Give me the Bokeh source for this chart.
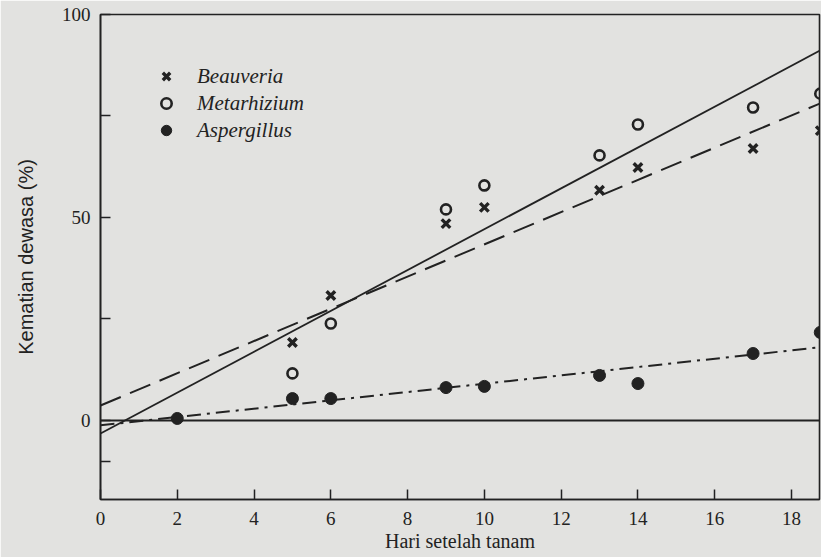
from bokeh.plotting import figure
from bokeh.models import Range1d, FixedTicker, Legend, LegendItem
from bokeh.embed import file_html
from bokeh.resources import INLINE

# ---- data ----
days_beauveria = [5, 6, 9, 10, 13, 14, 17, 18.75]
beauveria = [19.2, 30.8, 48.5, 52.5, 56.7, 62.3, 67.0, 71.4]

days_metarhizium = [5, 6, 9, 10, 13, 14, 17, 18.75]
metarhizium = [11.6, 23.9, 52.0, 57.9, 65.3, 72.9, 77.1, 80.5]

days_aspergillus = [2, 5, 6, 9, 10, 13, 14, 17, 18.75]
aspergillus = [0.5, 5.4, 5.4, 8.1, 8.4, 11.1, 9.1, 16.5, 21.7]

# regression lines (end points)
fit_days = [0, 19]
fit_metarhizium = [-3.2, 92.4]    # solid
fit_beauveria = [3.7, 79.1]       # long dash
fit_aspergillus = [-1.2, 18.3]    # dash-dot
baseline_days = [0, 19]
baseline = [0, 0]

x_ticks = [0, 2, 4, 6, 8, 10, 12, 14, 16, 18]
y_ticks = [-10, 0, 25, 50, 75, 100]
y_tick_labels = {-10: "", 0: "0", 25: "", 50: "50", 75: "", 100: "100"}

legend_names = ["Beauveria", "Metarhizium", "Aspergillus"]

INK = "#222222"
PAPER = "#e2e2e0"
SERIF = "Liberation Serif"
SANS = "Liberation Sans"

p = figure(width=821, height=557, output_backend="svg", toolbar_location=None,
           x_range=Range1d(0, 18.73), y_range=Range1d(-19.46, 100),
           min_border_left=100, min_border_right=2, min_border_top=14, min_border_bottom=58)

p.background_fill_color = PAPER
p.border_fill_color = PAPER
p.outline_line_color = INK
p.outline_line_width = 1.6
p.grid.visible = False

# axes
p.xaxis.ticker = FixedTicker(ticks=x_ticks)
p.yaxis.ticker = FixedTicker(ticks=y_ticks)
p.yaxis.major_label_overrides = y_tick_labels
for ax in (p.xaxis, p.yaxis):
    ax.axis_line_color = INK
    ax.axis_line_width = 1.6
    ax.major_tick_line_color = INK
    ax.major_tick_line_width = 1.5
    ax.major_tick_in = 10
    ax.major_tick_out = 0
    ax.minor_tick_line_color = None
    ax.major_label_text_font = SERIF
    ax.major_label_text_font_size = "19px"
    ax.major_label_text_color = INK
    ax.axis_label_text_font_style = "normal"
    ax.axis_label_text_color = INK

p.xaxis.major_label_standoff = 12
p.yaxis.major_label_standoff = 10
p.xaxis.axis_label = "Hari setelah tanam"
p.xaxis.axis_label_text_font = SERIF
p.xaxis.axis_label_text_font_size = "20px"
p.xaxis.axis_label_standoff = 2
p.yaxis.axis_label = "Kematian dewasa (%)"
p.yaxis.axis_label_text_font = SANS
p.yaxis.axis_label_text_font_size = "20px"
p.yaxis.axis_label_standoff = 22

# lines
p.line(baseline_days, baseline, line_color=INK, line_width=2.2)
p.line(fit_days, fit_metarhizium, line_color=INK, line_width=1.8)
p.line(fit_days, fit_beauveria, line_color=INK, line_width=2.0, line_dash="22 10")
p.line(fit_days, fit_aspergillus, line_color=INK, line_width=2.0, line_dash="14 6 3 6")

# points
r_b = p.scatter(days_beauveria, beauveria, marker="x", size=12, line_color=INK, line_width=3.4)
r_m = p.scatter(days_metarhizium, metarhizium, marker="circle", size=10, fill_color=None,
                line_color=INK, line_width=2.6)
r_a = p.scatter(days_aspergillus, aspergillus, marker="circle", size=12, fill_color=INK,
                line_color=INK)

legend = Legend(items=[LegendItem(label=legend_names[0], renderers=[r_b]),
                       LegendItem(label=legend_names[1], renderers=[r_m]),
                       LegendItem(label=legend_names[2], renderers=[r_a])],
                location=(53, 356))
legend.background_fill_alpha = 0
legend.border_line_color = None
legend.padding = 0
legend.margin = 0
legend.spacing = 1
legend.glyph_width = 26
legend.glyph_height = 26
legend.label_height = 26
legend.label_standoff = 18
legend.label_text_font = SERIF
legend.label_text_font_style = "italic"
legend.label_text_font_size = "21px"
legend.label_text_color = INK
p.add_layout(legend)

open("out.html", "w").write(file_html(p, INLINE))
